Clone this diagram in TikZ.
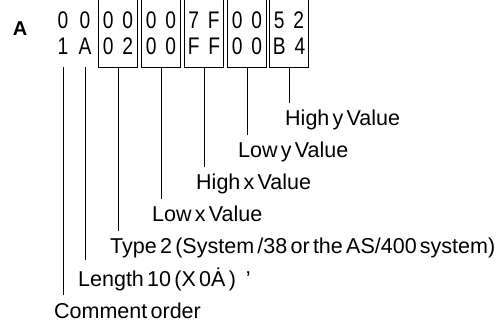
\documentclass[tikz,border=0pt]{standalone}
\usepackage{fontspec}
\setmainfont{Liberation Sans}[WordSpace=0.55]
\newfontfamily\hexfont{Liberation Sans}[FakeStretch=0.8]
\begin{document}
\begin{tikzpicture}[x=1pt,y=-1pt,
  hexpair/.style={font=\hexfont\fontsize{24}{26}\selectfont,align=center,
    minimum width=38pt,minimum height=67pt,inner sep=0pt},
  hexbox/.style={line width=0.8pt},
  lbl/.style={font=\fontsize{21.5}{24}\selectfont,anchor=base west,inner sep=7pt},
  lead/.style={line width=0.8pt}]
  \useasboundingbox (0,0) rectangle (497,328);
  \node[font=\bfseries\fontsize{20}{24}\selectfont] (tagA) at (20,29) {A};
  % leading byte pair, no box round it
  \node[hexpair,minimum width=16pt] (c1) at (63,33.5) {0\\1};
  \node[hexpair,minimum width=16pt] (c2) at (85,33.5) {0\\A};
  \node[hexpair] (b1) at (118,33.5) {0\hspace{9pt}0\\0\hspace{9pt}2};
  \node[hexpair] (b2) at (161,33.5) {0\hspace{9pt}0\\0\hspace{9pt}0};
  \node[hexpair] (b3) at (204,33.5) {7\hspace{9pt}F\\F\hspace{9pt}F};
  \node[hexpair] (b4) at (247,33.5) {0\hspace{9pt}0\\0\hspace{9pt}0};
  \node[hexpair] (b5) at (289,33.5) {5\hspace{9pt}2\\B\hspace{9pt}4};
  \foreach \b in {b1,b2,b3,b4,b5}
    \draw[hexbox] (\b.north west) |- (\b.south) -| (\b.north east);
  % labels, stepping down
  \node[lbl] (hiy) at (278,126) {High y Value};
  \node[lbl] (loy) at (231,158) {Low y Value};
  \node[lbl] (hix) at (189,190) {High x Value};
  \node[lbl] (lox) at (145,222) {Low x Value};
  \node[lbl] (typ) at (103,254) {Type 2 (System /38 or the AS/400 system)};
  \node[lbl] (len) at (71,286) {Length 10 (X 0Ȧ )\hspace{10pt}’};
  \node[lbl] (cmt) at (47,318) {Comment order};
  % leader lines
  \draw[lead] (b5.south) -- (hiy.north -| b5.south);
  \draw[lead] (b4.south) -- (loy.north -| b4.south);
  \draw[lead] (b3.south) -- (hix.north -| b3.south);
  \draw[lead] (b2.south) -- (lox.north -| b2.south);
  \draw[lead] (b1.south) -- (typ.north -| b1.south);
  \draw[lead] (c2.south) -- (len.north -| c2.south);
  \draw[lead] (c1.south) -- (cmt.north -| c1.south);
\end{tikzpicture}
\end{document}
